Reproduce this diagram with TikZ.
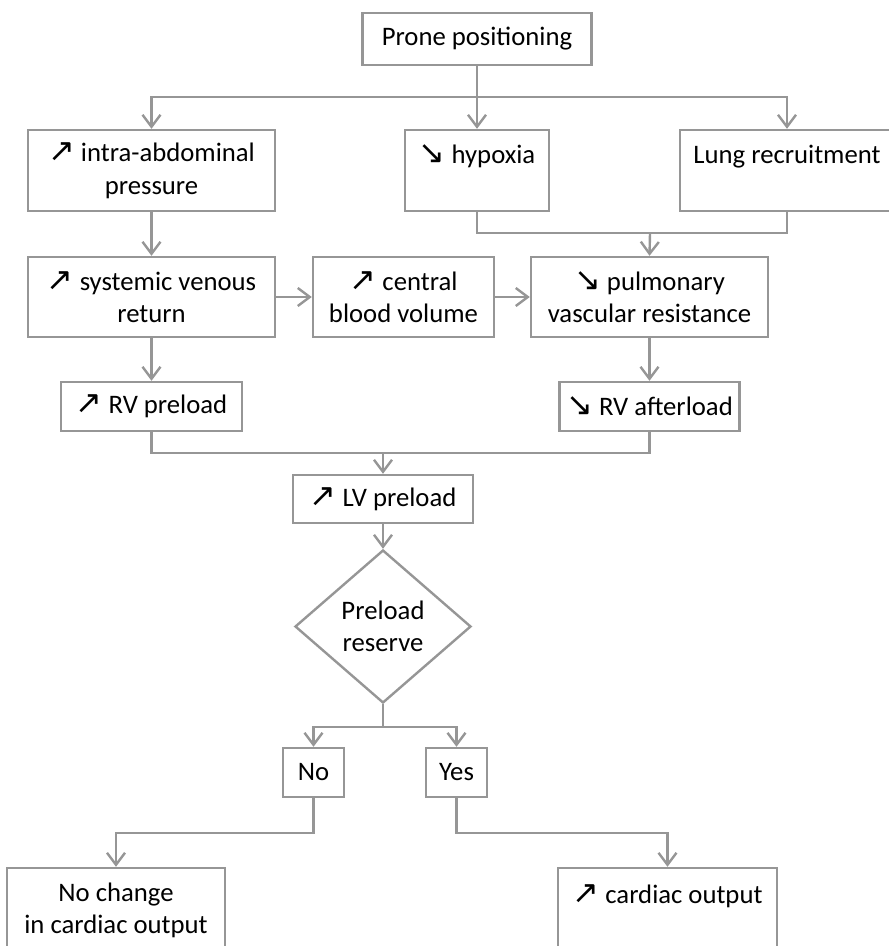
\documentclass[tikz,border=0pt]{standalone}
\usepackage{fontspec}
\setmainfont{Carlito}
\newfontfamily\arrowfont[Scale=1.2]{DejaVu Sans}
\usetikzlibrary{arrows.meta,shapes.geometric}

\definecolor{linegray}{RGB}{150,150,150}

% arrow glyphs for up / down
\newcommand{\incr}{{\arrowfont ↗}}
\newcommand{\decr}{{\arrowfont ↘}}

\begin{document}
\begin{tikzpicture}[x=0.5pt, y=-0.5pt,
  box/.style={draw=linegray, line width=1.2pt, fill=white, align=center, inner sep=0pt,
    font=\fontsize{13.35}{16.3}\selectfont},
  link/.style={draw=linegray, line width=1.2pt},
  arr/.style={link, -{Straight Barb[length=6pt, width=9pt, line width=1.2pt]}}]

\useasboundingbox (0,0) rectangle (888,946);

% ── Top ──
\node[box, minimum width=114.5pt, minimum height=26pt] (prone) at (477, 39) {Prone positioning};

% ── Row 2 ──
\node[box, minimum width=123.5pt, minimum height=40.5pt] (intra) at (151.5, 170.5) {\incr{} intra-abdominal\\pressure};
\node[box, minimum width=72pt, minimum height=40.5pt] (hypoxia) at (477, 170.5) {\decr{} hypoxia\\\mbox{}};
\node[box, minimum width=107pt, minimum height=40.5pt] (lung) at (787, 170.5) {Lung recruitment\\\mbox{}};

% ── Row 3 ──
\node[box, minimum width=123.5pt, minimum height=40pt] (venous) at (151.5, 297) {\incr{} systemic venous\\return};
\node[box, minimum width=90.5pt, minimum height=40pt] (blood) at (403.5, 297) {\incr{} central\\blood volume};
\node[box, minimum width=118.5pt, minimum height=40pt] (pvr) at (649.5, 297) {\decr{} pulmonary\\vascular resistance};

% ── Row 4 ──
\node[box, minimum width=90.5pt, minimum height=24.5pt] (rvpre) at (151.5, 406.5) {\incr{} RV preload};
\node[box, minimum width=90pt, minimum height=24.5pt] (rvaft) at (649.5, 406.5) {\decr{} RV afterload};

% ── LV and decision ──
\node[box, minimum width=90pt, minimum height=24pt] (lvpre) at (383, 499) {\incr{} LV preload};
\node[box, diamond, minimum width=88pt, minimum height=76.5pt] (reserve) at (383, 626.5) {Preload\\reserve};
\node[box, minimum width=30.5pt, minimum height=24.5pt] (no) at (313.5, 772.5) {No};
\node[box, minimum width=30.5pt, minimum height=24.5pt] (yes) at (456.5, 772.5) {Yes};

% ── Outcomes ──
\node[box, minimum width=109pt, minimum height=42.5pt] (nochange) at (116, 910.5) {No change\\in cardiac output};
\node[box, minimum width=109.5pt, minimum height=42.5pt] (output) at (667.5, 910.5) {\incr{} cardiac output\\\mbox{}};

% Branch points
\coordinate (split1) at (477, 97);
\coordinate (join1) at (650, 233);
\coordinate (join2) at (383, 453);
\coordinate (split2) at (383, 727);
\coordinate (bendno) at (313.5, 833);
\coordinate (bendyes) at (456.5, 833);

% ── Connectors ──
\draw[arr] (prone.south) -- (hypoxia.north);
\draw[arr] (split1) -| (intra.north);
\draw[arr] (split1) -| (lung.north);

\draw[link] (hypoxia.south) |- (join1) -| (lung.south);
\draw[arr] (join1) -- (pvr.north);

\draw[arr] (intra.south) -- (venous.north);
\draw[arr] (venous.east) -- (blood.west);
\draw[arr] (blood.east) -- (pvr.west);

\draw[arr] (venous.south) -- (rvpre.north);
\draw[arr] (pvr.south) -- (rvaft.north);

\draw[link] (rvpre.south) |- (join2) -| (rvaft.south);
\draw[arr] (join2) -- (lvpre.north);
\draw[arr] (lvpre.south) -- (reserve.north);

\draw[link] (reserve.south) -- (split2);
\draw[arr] (split2) -| (no.north);
\draw[arr] (split2) -| (yes.north);

\draw[arr] (no.south) -- (bendno) -| (nochange.north);
\draw[arr] (yes.south) -- (bendyes) -| (output.north);

\end{tikzpicture}
\end{document}
